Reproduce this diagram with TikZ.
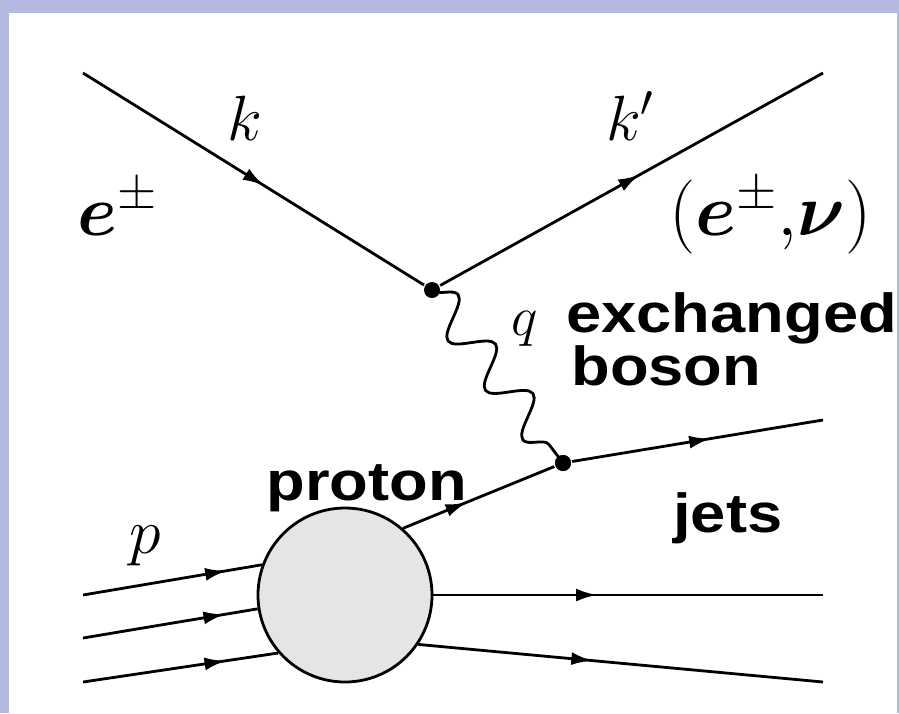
\documentclass[tikz,border=0pt]{standalone}
\usepackage{fix-cm}
\usepackage{bm}
\usepackage{fontspec}
\newfontfamily\rotfont[FakeStretch=1.15]{Liberation Sans}
\usetikzlibrary{arrows.meta,decorations.markings,decorations.pathmorphing}
\definecolor{moldura}{RGB}{180,185,224}

\begin{document}
\begin{tikzpicture}[x=1pt, y=-1pt, line width=2.8pt,
    ferm/.style={postaction={decorate}, decoration={markings,
        mark=at position #1 with {\arrow{Latex[length=21pt,width=13pt]}}}},
    ferm/.default=0.5,
    foton/.style={decorate, decoration={snake, amplitude=18pt, segment length=62pt}},
    vert/.style={circle, fill=black, inner sep=0pt, minimum size=16pt},
    mat/.style={font=\fontsize{64}{70}\selectfont, inner sep=0pt, anchor=base},
    rot/.style={font=\rotfont\bfseries\fontsize{55}{60}\selectfont, inner sep=0pt, anchor=base west}]
\useasboundingbox (0,0) rectangle (899,713);
% Moldura
\fill[moldura] (0,0) rectangle (899,713);
\fill[white] (9,13) rectangle (897,713);
% Vertices e pontas livres
\node[vert] (v1) at (432,290) {};
\node[vert] (v2) at (563,463) {};
\coordinate (ein) at (83,73);
\coordinate (kout) at (823,73);
\coordinate (jet1) at (823,420);
\coordinate (p1) at (83,595);
\coordinate (p2) at (83,638);
\coordinate (p3) at (83,682);
\coordinate (j2) at (823,595);
\coordinate (j3) at (823,682);
% Lepton
\draw[ferm=0.53] (ein) -- (v1);
\draw[ferm=0.52] (v1) -- (kout);
% Boson trocado
\draw[foton] (v1.center) -- (v2.center);
% Quark espalhado
\draw[ferm=0.55] (v2) -- (jet1);
% Proton
\node[draw, circle, fill=gray!20, minimum size=174pt, inner sep=0pt] (prot) at (345,595) {};
\draw[ferm=0.42] (prot.49) -- (v2);
\draw[ferm=0.8] (p1) -- (prot.160);
\draw[ferm=0.81] (p2) -- (prot.189);
\draw[ferm=0.73] (p3) -- (prot.221);
\draw[ferm=0.42] (prot.east) -- (j2);
\draw[ferm=0.43] (prot.-34) -- (j3);
\node[vert] at (v2) {};
% Rotulos
\node[mat] (lk) at (245,140) {$k$};
\node[mat, anchor=base west, font=\fontsize{72}{78}\selectfont] (le) at (76,235) {$\bm{e}^{\pm}$};
\node[mat] (lk2) at (630,140) {$k'$};
\node[mat, anchor=base west, font=\fontsize{74}{80}\selectfont] (lfin) at (668,235) {$(\bm{e}^{\pm}{,}\bm{\nu})$};
\node[mat, font=\fontsize{56}{60}\selectfont] (lq) at (525,335) {$q$};
\node[mat] (lp) at (145,553) {$p$};
\node[rot] (lexch) at (565,332) {exchanged};
\node[rot] (lbos) at (570,385) {boson};
\node[rot] (lprot) at (265,500) {proton};
\node[rot] (ljets) at (672,532) {jets};
\end{tikzpicture}
\end{document}
